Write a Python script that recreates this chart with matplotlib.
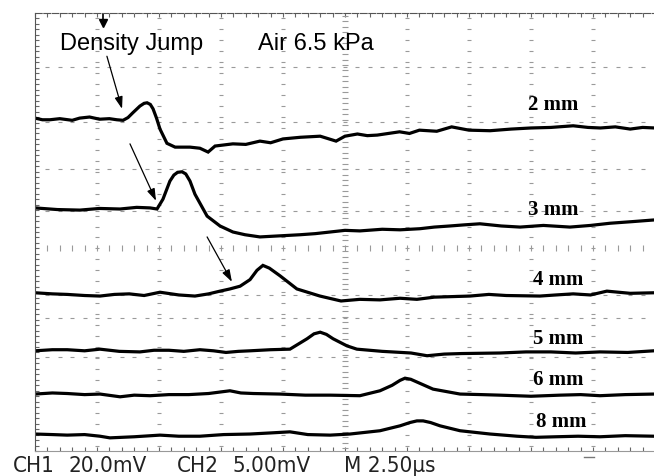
import numpy as np
import matplotlib as mpl
mpl.use('Agg')
import matplotlib.pyplot as plt

# time in microseconds (2.50 us / div), signal in screen divisions
t_2mm = [0, 0.3, 0.6, 1.0, 1.5, 1.8, 2.2, 2.6, 3.0, 3.3, 3.55, 3.75, 3.95, 4.23, 4.4, 4.52,
         4.65, 4.76, 4.9, 5.04, 5.32, 5.65, 6.25, 6.65, 6.98, 7.26, 7.98, 8.5, 9.07, 9.5,
         10.0, 10.7, 11.5, 12.14, 12.5, 13.0, 13.4, 13.8, 14.7, 15.1, 15.5, 16.2, 16.8, 17.5,
         18.35, 19.2, 20.0, 20.8, 21.7, 22.3, 22.8, 23.4, 24.0, 24.5, 25.0]
v_2mm = [6.08, 6.05, 6.05, 6.07, 6.04, 6.08, 6.10, 6.06, 6.07, 6.05, 6.04, 6.09, 6.18, 6.30,
         6.35, 6.36, 6.33, 6.25, 6.08, 5.88, 5.62, 5.55, 5.55, 5.53, 5.46, 5.57, 5.61, 5.60,
         5.66, 5.63, 5.70, 5.73, 5.75, 5.66, 5.75, 5.79, 5.76, 5.77, 5.83, 5.80, 5.86, 5.84,
         5.92, 5.86, 5.85, 5.88, 5.90, 5.91, 5.94, 5.91, 5.90, 5.92, 5.88, 5.91, 5.90]

t_3mm = [0, 0.9, 1.81, 2.6, 3.43, 4.1, 4.64, 4.92, 5.16, 5.44, 5.6, 5.75, 5.93, 6.08, 6.25,
         6.45, 6.94, 7.46, 7.98, 8.47, 9.07, 9.88, 10.69, 11.3, 11.90, 12.5, 13.10, 14.0,
         14.72, 15.52, 16.1, 16.73, 17.3, 17.94, 18.8, 19.56, 20.5, 21.57, 22.4, 23.19, 24.1,
         24.96]
v_3mm = [4.44, 4.41, 4.40, 4.43, 4.42, 4.45, 4.44, 4.42, 4.60, 4.93, 5.04, 5.09, 5.10, 5.06,
         4.93, 4.69, 4.29, 4.11, 4.00, 3.95, 3.91, 3.93, 3.95, 3.97, 4.00, 4.03, 4.02, 4.05,
         4.04, 4.06, 4.09, 4.11, 4.13, 4.15, 4.11, 4.09, 4.12, 4.09, 4.12, 4.16, 4.19, 4.22]

t_4mm = [0, 0.7, 1.3, 2.0, 2.62, 3.2, 3.8, 4.4, 5.04, 5.8, 6.45, 7.0, 7.46, 7.86, 8.27, 8.67,
         8.95, 9.19, 9.45, 9.88, 10.56, 11.49, 12.34, 13.1, 13.91, 14.72, 15.4, 16.1, 17.54,
         18.3, 19.0, 20.36, 21.0, 21.7, 22.4, 23.06, 24.0, 24.96]
v_4mm = [2.89, 2.87, 2.86, 2.84, 2.83, 2.86, 2.87, 2.84, 2.90, 2.85, 2.83, 2.87, 2.92, 2.96,
         3.01, 3.13, 3.30, 3.39, 3.34, 3.20, 2.96, 2.83, 2.74, 2.77, 2.76, 2.79, 2.77, 2.81,
         2.83, 2.86, 2.84, 2.83, 2.85, 2.87, 2.85, 2.92, 2.88, 2.89]

t_5mm = [0, 0.7, 1.3, 2.0, 2.62, 3.4, 4.23, 4.8, 5.4, 6.0, 6.65, 7.2, 7.7, 8.2, 8.67, 9.5,
         10.28, 10.97, 11.25, 11.5, 11.75, 12.02, 12.58, 12.98, 14.0, 15.16, 15.81, 16.5,
         17.2, 18.75, 19.8, 20.8, 21.8, 22.78, 23.9, 24.96]
v_5mm = [1.83, 1.85, 1.85, 1.83, 1.86, 1.82, 1.81, 1.84, 1.84, 1.82, 1.85, 1.83, 1.80, 1.82,
         1.83, 1.85, 1.86, 2.05, 2.14, 2.17, 2.13, 2.05, 1.92, 1.86, 1.82, 1.79, 1.74, 1.77,
         1.78, 1.79, 1.81, 1.81, 1.79, 1.81, 1.80, 1.83]

t_6mm = [0, 0.7, 1.3, 2.0, 2.62, 3.43, 4.0, 4.64, 5.4, 6.2, 7.0, 7.86, 8.3, 8.8, 9.88, 10.9,
         11.90, 13.10, 13.91, 14.4, 14.72, 14.92, 15.15, 15.40, 16.05, 17.14, 18.0, 18.75,
         20.0, 21.17, 22.0, 22.78, 23.8, 24.96]
v_6mm = [1.04, 1.06, 1.05, 1.03, 1.04, 0.99, 1.02, 1.01, 1.03, 1.03, 1.05, 1.10, 1.06, 1.05,
         1.04, 1.02, 1.02, 1.01, 1.10, 1.20, 1.29, 1.33, 1.31, 1.26, 1.13, 1.04, 1.03, 1.02,
         1.00, 1.02, 1.03, 1.01, 1.03, 1.04]

t_8mm = [0, 0.7, 1.3, 2.0, 2.62, 3.02, 4.0, 5.04, 5.8, 6.65, 7.6, 8.67, 9.5, 10.28, 11.0,
         11.90, 12.70, 13.91, 14.72, 15.12, 15.4, 15.65, 15.95, 16.33, 17.14, 18.35, 19.44,
         20.2, 21.0, 21.9, 22.78, 23.8, 24.96]
v_8mm = [0.31, 0.30, 0.29, 0.30, 0.27, 0.24, 0.26, 0.29, 0.27, 0.27, 0.30, 0.31, 0.33, 0.35,
         0.30, 0.29, 0.31, 0.37, 0.46, 0.52, 0.55, 0.55, 0.52, 0.46, 0.37, 0.31, 0.27, 0.25,
         0.26, 0.27, 0.26, 0.28, 0.27]

traces = [(t_2mm, v_2mm), (t_3mm, v_3mm), (t_4mm, v_4mm),
          (t_5mm, v_5mm), (t_6mm, v_6mm), (t_8mm, v_8mm)]

trace_labels = ['2 mm', '3 mm', '4 mm', '5 mm', '6 mm', '8 mm']
label_t = [20.9, 20.9, 21.1, 21.1, 21.1, 21.2]
label_v = [6.34, 4.42, 3.14, 2.06, 1.32, 0.55]

# density jump arrows: (tail t, tail v, head t, head v)
jump_arrows = [(2.90, 7.21, 3.51, 6.25),
               (3.83, 5.61, 4.88, 4.57),
               (6.94, 3.91, 7.94, 3.09)]

trigger_t = 2.74
grid_rows = [7.01, 6.01, 5.15, 4.38, 2.85, 2.43, 1.72]
center_row = 3.71
center_col = 12.5

fig = plt.figure(figsize=(6.54, 4.77), dpi=100)
ax = fig.add_axes([35 / 654, 1 - 452 / 477, 619 / 654, 438 / 477])
ax.set_xlim(0, 24.96)
ax.set_ylim(0, 8)

# graticule
gcol = '#9a9a9a'
ydots = np.arange(0.1, 8, 0.2)
for c in np.arange(2.5, 25, 2.5):
    if abs(c - center_col) < 0.01:
        continue
    ax.plot(np.full_like(ydots, c), ydots, ls='none', marker='_', ms=2.2, mew=0.8, color=gcol)
xdots = np.arange(0.5, 25, 0.5)
for r in grid_rows:
    ax.plot(xdots, np.full_like(xdots, r), ls='none', marker='_', ms=2.2, mew=0.8, color=gcol)
yd = np.arange(0.05, 8, 0.1)
ax.plot(np.full_like(yd, center_col), yd, ls='none', marker='_', ms=4.5, mew=0.8, color=gcol)
ax.plot(xdots, np.full_like(xdots, center_row), ls='none', marker='|', ms=5, mew=0.8, color=gcol)

for t, v in traces:
    ax.plot(t, v, color='black', lw=2.3, solid_joinstyle='miter')

for lab, lt, lv in zip(trace_labels, label_t, label_v):
    ax.text(lt, lv, lab, family='Liberation Serif', weight='bold', fontsize=15,
            ha='center', va='center')

for t0, v0, t1, v1 in jump_arrows:
    ax.annotate('', xy=(t1, v1), xytext=(t0, v0),
                arrowprops=dict(arrowstyle='-|>,head_length=0.6,head_width=0.2', lw=0.9,
                                color='black', mutation_scale=12, shrinkA=0, shrinkB=0))

ax.text(1.0, 7.45, 'Density Jump', family='Liberation Sans', fontsize=17, va='center')
ax.text(8.99, 7.45, 'Air 6.5 kPa', family='Liberation Sans', fontsize=17, va='center')

ax.plot([trigger_t, trigger_t], [8, 7.78], color='black', lw=1.2)
ax.plot([trigger_t], [7.82], marker='v', ms=6, color='black')

# frame
ax.spines['right'].set_visible(False)
ax.spines['top'].set_color('#555555')
ax.spines['top'].set_linestyle((0, (6, 1.5)))
ax.spines['left'].set_color('#555555')
ax.spines['bottom'].set_color('#999999')
ax.spines['bottom'].set_linestyle((0, (1, 1)))
ax.set_xticks(np.arange(0, 25, 0.5))
ax.set_yticks(np.arange(0, 8, 0.1))
ax.tick_params(axis='x', direction='in', length=3, width=0.8, colors='#666666',
               top=True, bottom=True, labelbottom=False)
ax.tick_params(axis='y', direction='in', length=3, width=0.8, colors='#666666',
               left=True, labelleft=False)

# scope readout
readout = [(13, 'CH1'), (68, '20.0mV'), (177, 'CH2'), (233, '5.00mV'), (344, 'M 2.50\u00b5s')]
for px, s in readout:
    fig.text(px / 654, 1 - 466 / 477, s, family='DejaVu Sans', fontstretch='condensed',
             fontsize=16, va='center', ha='left', color='#222222')
fig.add_artist(plt.Line2D([584 / 654, 594 / 654], [1 - 458 / 477] * 2, color='#777777', lw=1))

fig.savefig('out.png', dpi=100)
